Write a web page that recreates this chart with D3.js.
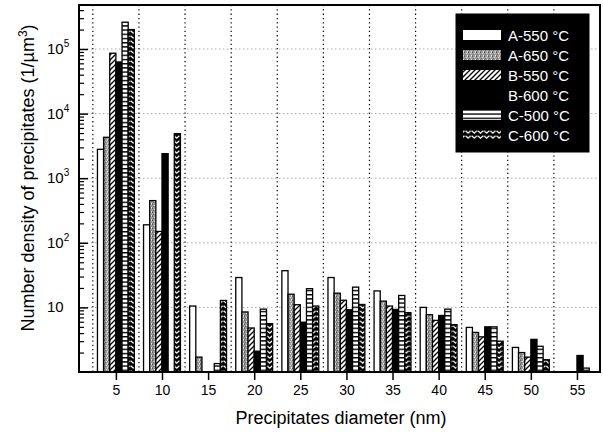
<!DOCTYPE html>
<html>
<head>
<meta charset="utf-8">
<script src="https://cdn.jsdelivr.net/npm/d3@7"></script>
<style>
  html, body { margin: 0; padding: 0; background: #fff; }
  svg { display: block; font-family: "Liberation Sans", Arial, Helvetica, sans-serif; }
</style>
</head>
<body>
<svg id="chart" width="603" height="432"></svg>
<script>
// Precipitate diameter classes (nm)
const diameters = [5, 10, 15, 20, 25, 30, 35, 40, 45, 50, 55];

// Number density (1/µm³) per alloy / ageing temperature; null = no bar
const a550 = [2800, 190, 10.5, 29, 37, 29, 18, 10, 4.9, 2.4, null];
const a650 = [4300, 450, 1.7, 8.5, 16, 16.6, 12.5, 7.7, 4.1, 2.0, null];
const b550 = [86000, 150, null, 4.8, 11, 12.9, 10.5, 6.3, 3.5, 1.7, null];
const b600 = [63000, 2400, null, 2.1, 5.9, 9.2, 9.3, 7.5, 5.0, 3.2, 1.8];
const c500 = [260000, null, 1.35, 9.4, 19.5, 20.6, 15.3, 9.4, 5.0, 2.5, 1.15];
const c600 = [200000, 4900, 12.8, 5.6, 10.5, 11.1, 8.3, 5.4, 3.0, 1.55, null];

const seriesNames = ["A-550 °C", "A-650 °C", "B-550 °C", "B-600 °C", "C-500 °C", "C-600 °C"];
const seriesValues = [a550, a650, b550, b600, c500, c600];
const seriesFills = ["#fff", "url(#pStipple)", "url(#pDiag)", "#000", "url(#pHoriz)", "url(#pWave)"];

const xTicks = [5, 10, 15, 20, 25, 30, 35, 40, 45, 50, 55];
const xGrid = [2.5, 7.5, 12.5, 17.5, 22.5, 27.5, 32.5, 37.5, 42.5, 47.5, 52.5];
const yTicks = [10, 100, 1000, 10000, 100000];

const svg = d3.select("#chart");
const L = 79, R = 600, T = 5, B = 372;

const x = d3.scaleLinear().domain([1, 57.5]).range([L, R]);
const y = d3.scaleLog().domain([1, 4.8e5]).range([B, T]);

// ---- fill patterns ----
const defs = svg.append("defs");

const stip = defs.append("pattern").attr("id", "pStipple")
  .attr("patternUnits", "userSpaceOnUse").attr("width", 4).attr("height", 4);
stip.append("rect").attr("width", 4).attr("height", 4).attr("fill", "#9a9a9a");
[[0,0,"#555"],[2,1,"#dcdcdc"],[1,2,"#6a6a6a"],[3,3,"#e6e6e6"],[3,0,"#c8c8c8"],[0,3,"#777"]]
  .forEach(([px, py, c]) => stip.append("rect").attr("x", px).attr("y", py)
    .attr("width", 1).attr("height", 1).attr("fill", c));

const diag = defs.append("pattern").attr("id", "pDiag")
  .attr("patternUnits", "userSpaceOnUse").attr("width", 5).attr("height", 5);
diag.append("rect").attr("width", 5).attr("height", 5).attr("fill", "#fff");
diag.append("path").attr("d", "M-1,6 L6,-1 M-1,1 L1,-1 M4,6 L6,4")
  .attr("stroke", "#000").attr("stroke-width", 1.3);

const horiz = defs.append("pattern").attr("id", "pHoriz")
  .attr("patternUnits", "userSpaceOnUse").attr("width", 6).attr("height", 4.2);
horiz.append("rect").attr("width", 6).attr("height", 4.2).attr("fill", "#fff");
horiz.append("rect").attr("y", 0).attr("width", 6).attr("height", 1.4).attr("fill", "#000");

const wave = defs.append("pattern").attr("id", "pWave")
  .attr("patternUnits", "userSpaceOnUse").attr("width", 6.2).attr("height", 5);
wave.append("rect").attr("width", 6.2).attr("height", 5).attr("fill", "#000");
wave.append("path").attr("d", "M0.5,0.8 L3.1,3.2 L5.7,0.8")
  .attr("fill", "none").attr("stroke", "#fff").attr("stroke-width", 1.2);

// ---- grid ----
svg.append("g").selectAll("line").data(yTicks).join("line")
  .attr("x1", L).attr("x2", R).attr("y1", d => y(d)).attr("y2", d => y(d))
  .attr("stroke", "#a8a8a8").attr("stroke-width", 1).attr("stroke-dasharray", "1.5,2.5");

svg.append("g").selectAll("line").data(xGrid).join("line")
  .attr("x1", d => x(d)).attr("x2", d => x(d)).attr("y1", T).attr("y2", B)
  .attr("stroke", "#000").attr("stroke-width", 1.2).attr("stroke-dasharray", "1.3,3");

// ---- bars ----
const groupWidth = 4;                // x units covered by six bars
const barW = groupWidth / 6;
const barsG = svg.append("g");
seriesValues.forEach((vals, si) => {
  const data = diameters.map((d, i) => ({ d, v: vals[i] })).filter(e => e.v != null);
  barsG.append("g").selectAll("rect").data(data).join("rect")
    .attr("x", e => x(e.d - groupWidth / 2 + si * barW))
    .attr("width", e => x(e.d - groupWidth / 2 + (si + 1) * barW) - x(e.d - groupWidth / 2 + si * barW))
    .attr("y", e => y(e.v))
    .attr("height", e => B - y(e.v))
    .attr("fill", seriesFills[si])
    .attr("stroke", "#000").attr("stroke-width", 1.3);
});

// ---- axes ----
const xAxis = d3.axisBottom(x).tickValues(xTicks).tickSize(8).tickPadding(5).tickFormat(d3.format("d"));
const gx = svg.append("g").attr("transform", `translate(0,${B})`).call(xAxis);
gx.select(".domain").remove();
gx.selectAll(".tick line").attr("stroke", "#000").attr("stroke-width", 1.5);
gx.selectAll(".tick text").attr("font-size", 14).attr("fill", "#000")
  .attr("font-family", "Liberation Sans, Arial, sans-serif");

// y axis: inward ticks, minor ticks at 2..9 of each decade
const minor = [];
for (let e = 0; e <= 5; e++) for (let k = 2; k <= 9; k++) {
  const v = k * Math.pow(10, e);
  if (v < y.domain()[1]) minor.push(v);
}
const yAxisMinor = d3.axisRight(y).tickValues(minor).tickSize(5).tickFormat("");
const gym = svg.append("g").attr("transform", `translate(${L},0)`).call(yAxisMinor);
gym.select(".domain").remove();
gym.selectAll(".tick line").attr("stroke", "#000").attr("stroke-width", 1.2);

const yAxisMajor = d3.axisRight(y).tickValues(yTicks).tickSize(9).tickFormat("");
const gyM = svg.append("g").attr("transform", `translate(${L},0)`).call(yAxisMajor);
gyM.select(".domain").remove();
gyM.selectAll(".tick line").attr("stroke", "#000").attr("stroke-width", 1.5);

// y tick labels with superscript exponents
const yl = svg.append("g").selectAll("text").data(yTicks).join("text")
  .attr("x", 47).attr("y", d => y(d) + 5)
  .attr("font-size", 15).attr("fill", "#000");
yl.append("tspan").text("10");
yl.filter(d => d > 10).append("tspan").attr("dy", -7).attr("font-size", 10)
  .text(d => String(Math.round(Math.log10(d))));

// frame
svg.append("rect").attr("x", L).attr("y", T).attr("width", R - L).attr("height", B - T)
  .attr("fill", "none").attr("stroke", "#000").attr("stroke-width", 2);

// axis titles
svg.append("text").attr("x", 341).attr("y", 424).attr("text-anchor", "middle")
  .attr("font-size", 18).attr("fill", "#000").text("Precipitates diameter (nm)");

const yt = svg.append("text").attr("transform", "translate(34,178) rotate(-90)")
  .attr("text-anchor", "middle").attr("font-size", 18).attr("fill", "#000");
yt.append("tspan").text("Number density of precipitates (1/µm");
yt.append("tspan").attr("dy", -7).attr("font-size", 12).text("3");
yt.append("tspan").attr("dy", 7).text(")");

// ---- legend ----
const lg = svg.append("g");
lg.append("rect").attr("x", 456).attr("y", 14).attr("width", 133).attr("height", 138)
  .attr("fill", "#000").attr("stroke", "#000");
seriesNames.forEach((name, i) => {
  const cy = 35 + i * 20;
  lg.append("rect").attr("x", 463).attr("y", cy - 5).attr("width", 38).attr("height", 10)
    .attr("fill", seriesFills[i]);
  lg.append("text").attr("x", 508).attr("y", cy + 6).attr("font-size", 15)
    .attr("fill", "#fff").text(name);
});
</script>
</body>
</html>
